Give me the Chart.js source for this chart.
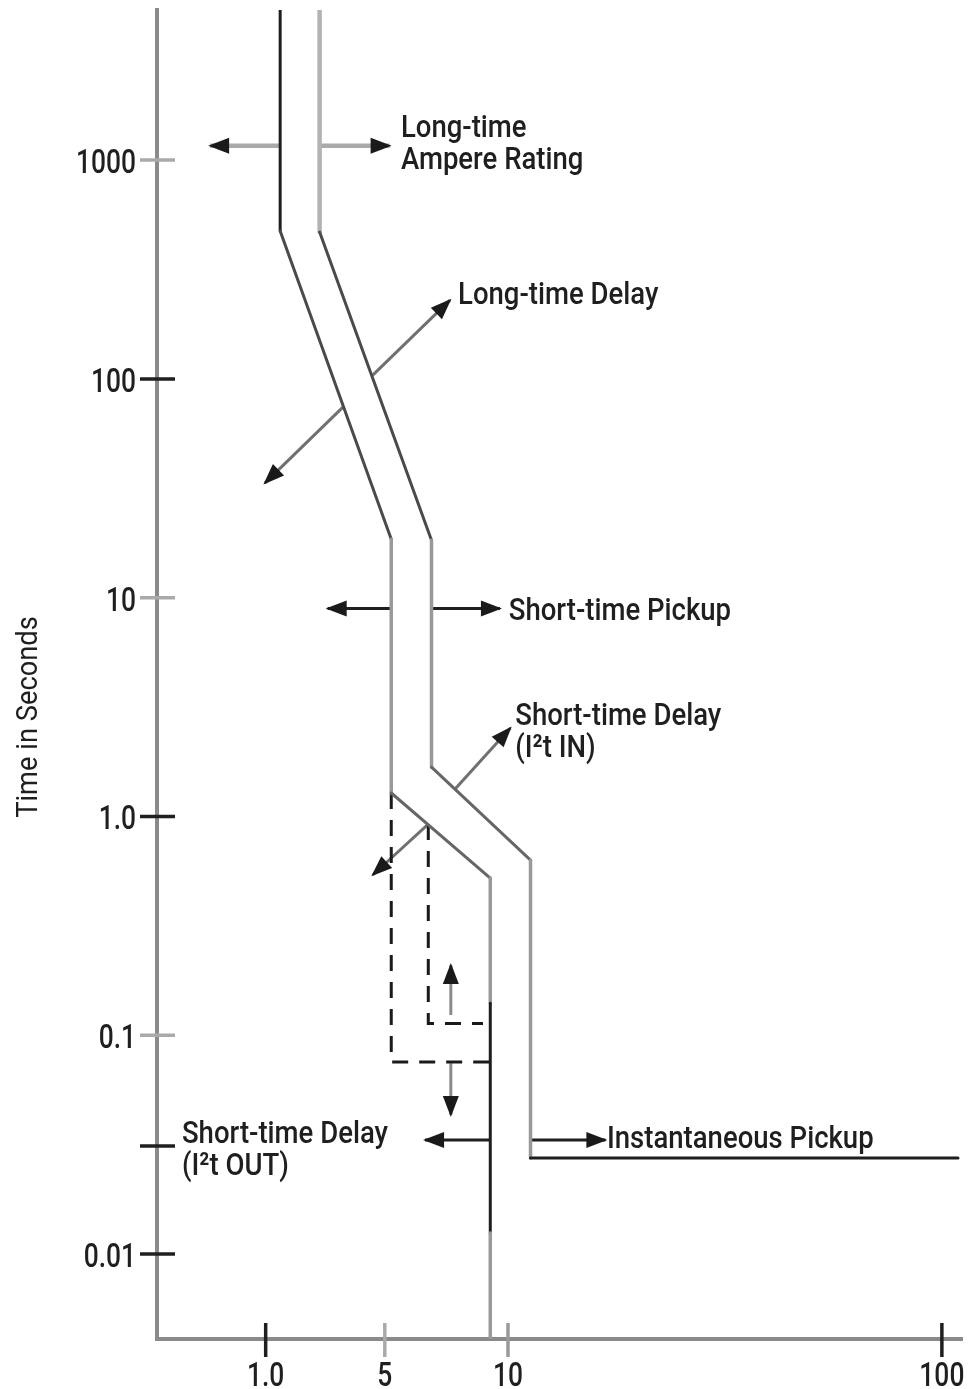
<!DOCTYPE html>
<html>
<head>
<meta charset="utf-8">
<title>Time in Seconds - trip curve</title>
<script src="https://cdn.jsdelivr.net/npm/chart.js@4.4.1/dist/chart.umd.min.js"></script>
<style>
    html, body { margin: 0; padding: 0; background: #fff; }
    #wrap { width: 968px; height: 1389px; position: relative; }
</style>
</head>
<body>
<div id="wrap"><canvas id="tcc"></canvas></div>
<script>
// Schematic current axis (0-100 = axis length), time axis is log seconds
const X_MIN = 0, X_MAX = 100;
const T_MIN = 0.00409, T_MAX = 4853;

const xTickPos = [13.5, 28.3, 43.6, 97.5];
const xTickLabels = ['1.0', '5', '10', '100'];
const yTickValues = [1000, 100, 10, 1, 0.1, 0.0312, 0.01];
const yTickLabels = ['1000', '100', '10', '1.0', '0.1', '', '0.01'];

// Left edge of the trip band
const leftBandX = [15.3, 15.3, 29.1, 29.1, 41.4, 41.4, 41.4, 41.4];
const leftBandT = [4853, 474, 18.5, 1.28, 0.523, 0.140, 0.01248, 0.00409];

// Right edge of the trip band
const rightBandX = [20.2, 20.2, 34.1, 34.1, 46.4, 46.4, 99.5];
const rightBandT = [4853, 469, 18.3, 1.68, 0.632, 0.0275, 0.0275];

// Short-time delay with I2t out (dashed)
const outerDashX = [29.1, 29.1, 41.4];
const outerDashT = [1.28, 0.0754, 0.0754];
const innerDashX = [33.7, 33.7, 40.5];
const innerDashT = [0.923, 0.1133, 0.1133];

// Arrows: [fromX, fromT, toX, toT]
const arrows = [
    [15.3, 1163, 6.6, 1163],
    [20.2, 1163, 28.9, 1163],
    [26.8, 104, 36.4, 229],
    [23.1, 74.3, 13.4, 33.4],
    [29.1, 8.93, 21.2, 8.93],
    [34.1, 8.93, 42.6, 8.93],
    [37.0, 1.33, 43.9, 2.54],
    [33.7, 0.923, 26.8, 0.540],
    [36.5, 0.1237, 36.5, 0.2094],
    [36.5, 0.0745, 36.5, 0.0432],
    [41.4, 0.0332, 33.3, 0.0332],
    [46.4, 0.0332, 55.7, 0.0332]
];

// Callout labels
const labelLines = [
    ['Long-time', 'Ampere Rating'],
    ['Long-time Delay'],
    ['Short-time Pickup'],
    ['Short-time Delay', '(I²t IN)'],
    ['Short-time Delay', '(I²t OUT)'],
    ['Instantaneous Pickup']
];
const labelX = [30.3, 37.4, 43.7, 44.5, 3.1, 55.9];
const labelT = [1278, 220, 7.90, 2.62, 0.0322, 0.0305];

// ---- styles ----
const INK = '#1f1f1f';
const FONT_WEIGHT = '500';
const leftBandColors = ['#1e1e1e', '#4a4a4a', '#999', '#666', '#999', '#1e1e1e', '#999'];
const leftBandWidths = [3, 3, 3.5, 3, 3.5, 3, 3.5];
const rightBandColors = ['#b3b3b3', '#4a4a4a', '#999', '#666', '#999', '#1e1e1e'];
const rightBandWidths = [4.5, 3, 3.5, 3, 3.5, 3];
const arrowShaftColors = ['#aaa', '#aaa', '#707070', '#707070', INK, INK, '#707070', '#707070', '#8a8a8a', '#8a8a8a', INK, INK];
const arrowShaftWidths = [4.5, 4.5, 3, 3, 3, 3, 3, 3, 3, 3, 3, 3];
const yTickColors = ['#aaa', INK, '#aaa', INK, '#aaa', INK, INK];
const xTickColors = [INK, '#aaa', '#999', INK];

function toPoints(xs, ts) {
    return xs.map((x, i) => ({ x: x, y: ts[i] }));
}

function drawSqueezed(ctx, text, x, y, size, squeeze, align) {
    ctx.save();
    ctx.font = FONT_WEIGHT + ' ' + size + 'px Roboto';
    ctx.fillStyle = INK;
    ctx.textBaseline = 'alphabetic';
    ctx.textAlign = align;
    ctx.translate(x, y);
    ctx.scale(squeeze, 1);
    ctx.fillText(text, 0, 0);
    ctx.restore();
}

// Arrow heads, tick marks and all text
const annotatePlugin = {
    id: 'annotate',
    afterDatasetsDraw(chart) {
        const ctx = chart.ctx;
        const xs = chart.scales.x, ys = chart.scales.y;
        arrows.forEach(a => {
            const x0 = xs.getPixelForValue(a[0]), y0 = ys.getPixelForValue(a[1]);
            const x1 = xs.getPixelForValue(a[2]), y1 = ys.getPixelForValue(a[3]);
            const ang = Math.atan2(y1 - y0, x1 - x0);
            const len = 21, half = 8;
            const tx = x1 + Math.cos(ang) * 2, ty = y1 + Math.sin(ang) * 2;
            const bx = tx - Math.cos(ang) * len, by = ty - Math.sin(ang) * len;
            ctx.save();
            ctx.fillStyle = '#1a1a1a';
            ctx.beginPath();
            ctx.moveTo(tx, ty);
            ctx.lineTo(bx + Math.sin(ang) * half, by - Math.cos(ang) * half);
            ctx.lineTo(bx - Math.sin(ang) * half, by + Math.cos(ang) * half);
            ctx.closePath();
            ctx.fill();
            ctx.restore();
        });
    },
    afterDraw(chart) {
        const ctx = chart.ctx;
        const xs = chart.scales.x, ys = chart.scales.y;
        const axisX = chart.chartArea.left, axisY = chart.chartArea.bottom;

        ctx.save();
        ctx.lineWidth = 3.5;
        yTickValues.forEach((v, i) => {
            const py = ys.getPixelForValue(v);
            ctx.strokeStyle = yTickColors[i];
            ctx.beginPath();
            ctx.moveTo(axisX - 17, py);
            ctx.lineTo(axisX + 18, py);
            ctx.stroke();
            if (yTickLabels[i]) drawSqueezed(ctx, yTickLabels[i], axisX - 21, py + 13, 33, 0.8, 'right');
        });
        xTickPos.forEach((v, i) => {
            const px = xs.getPixelForValue(v);
            ctx.strokeStyle = xTickColors[i];
            ctx.beginPath();
            ctx.moveTo(px, axisY - 16);
            ctx.lineTo(px, axisY + 18);
            ctx.stroke();
            drawSqueezed(ctx, xTickLabels[i], px, axisY + 47, 33, 0.8, 'center');
        });
        ctx.restore();

        labelLines.forEach((lines, i) => {
            const px = xs.getPixelForValue(labelX[i]);
            const py = ys.getPixelForValue(labelT[i]);
            lines.forEach((line, j) => drawSqueezed(ctx, line, px, py + j * 32.5, 32, 0.86, 'left'));
        });

        // axis title
        ctx.save();
        ctx.translate(37, 717);
        ctx.rotate(-Math.PI / 2);
        ctx.scale(0.91, 1);
        ctx.font = '30px Roboto';
        ctx.fillStyle = INK;
        ctx.textAlign = 'center';
        ctx.textBaseline = 'alphabetic';
        ctx.fillText('Time in Seconds', 0, 0);
        ctx.restore();
    }
};

const datasets = [
    {
        data: toPoints(leftBandX, leftBandT),
        borderCapStyle: 'round',
        segment: {
            borderColor: c => leftBandColors[c.p0DataIndex],
            borderWidth: c => leftBandWidths[c.p0DataIndex]
        }
    },
    {
        data: toPoints(rightBandX, rightBandT),
        borderCapStyle: 'round',
        segment: {
            borderColor: c => rightBandColors[c.p0DataIndex],
            borderWidth: c => rightBandWidths[c.p0DataIndex]
        }
    },
    { data: toPoints(outerDashX, outerDashT), borderColor: '#1a1a1a', borderWidth: 3, borderDash: [16, 11] },
    { data: toPoints(innerDashX, innerDashT), borderColor: '#1a1a1a', borderWidth: 3, borderDash: [16, 11] }
];

arrows.forEach((a, i) => {
    datasets.push({
        data: [{ x: a[0], y: a[1] }, { x: a[2], y: a[3] }],
        borderColor: arrowShaftColors[i],
        borderWidth: arrowShaftWidths[i]
    });
});

datasets.forEach(d => {
    d.showLine = true;
    d.pointRadius = 0;
    d.pointHoverRadius = 0;
    d.fill = false;
    if (!d.borderColor) d.borderColor = INK;
});

Chart.defaults.font.family = 'Roboto';

new Chart(document.getElementById('tcc'), {
    type: 'scatter',
    data: { datasets: datasets },
    options: {
        responsive: true,
        maintainAspectRatio: false,
        animation: false,
        layout: { padding: { top: 10, right: 6, left: 0, bottom: 0 } },
        plugins: {
            legend: { display: false },
            tooltip: { enabled: false }
        },
        scales: {
            x: {
                type: 'linear',
                min: X_MIN,
                max: X_MAX,
                bounds: 'data',
                grid: { display: false, drawTicks: false },
                ticks: { display: false },
                border: { display: true, color: '#8a8a8a', width: 4 },
                afterFit: s => { s.height = 50; }
            },
            y: {
                type: 'logarithmic',
                min: T_MIN,
                max: T_MAX,
                bounds: 'data',
                grid: { display: false, drawTicks: false },
                ticks: { display: false },
                border: { display: true, color: '#8a8a8a', width: 4 },
                afterFit: s => { s.width = 157; }
            }
        }
    },
    plugins: [annotatePlugin]
});
</script>
</body>
</html>
